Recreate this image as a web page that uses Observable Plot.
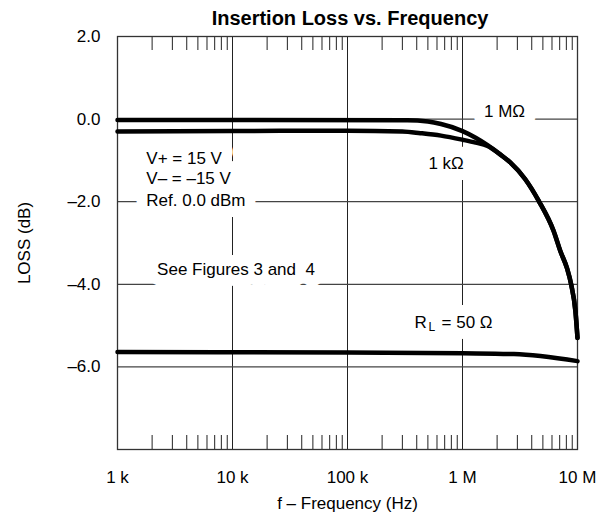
<!DOCTYPE html>
<html><head><meta charset="utf-8">
<script src="https://cdn.jsdelivr.net/npm/d3@7"></script>
<script src="https://cdn.jsdelivr.net/npm/@observablehq/plot@0.6"></script>
<style>
body{margin:0;background:#fff;font-family:"Liberation Sans",Arial,sans-serif;}
#title{height:30px;line-height:36px;font-size:20px;font-weight:bold;text-align:center;padding-left:97px;width:506px;color:#000;}
</style></head><body>
<div id="title">Insertion Loss vs. Frequency</div>
<div id="chart"></div>
<script>
// axis ticks / labels
const xTicks = [1e3, 1e4, 1e5, 1e6, 1e7];
const xTickLabels = ["1 k", "10 k", "100 k", "1 M", "10 M"];
const yTicks = [2, 0, -2, -4, -6];
const yTickLabels = ["2.0", "0.0", "–2.0", "–4.0", "–6.0"];
const xGrid = [1e4, 1e5, 1e6];
const yGrid = [0, -2, -4, -6];
const minorMultipliers = [2, 3, 4, 5, 6, 7, 8, 9];
const decades = [1e3, 1e4, 1e5, 1e6];

// series: RL = 1 MΩ
const freq1M = [1e3, 3.3e5, 5e5, 6.5e5, 1e6, 1.3e6, 1.65e6, 2.14e6, 2.6e6, 3.5e6, 4.6e6, 6.2e6, 7.1e6, 8.1e6, 8.8e6, 9.6e6, 1e7];
const loss1M = [-0.02, -0.03, -0.06, -0.12, -0.29, -0.45, -0.63, -0.86, -1.05, -1.45, -1.98, -2.71, -3.2, -3.61, -4.0, -4.66, -5.3];
// series: RL = 1 kΩ
const freq1k = [1e3, 1e4, 1e5, 3e5, 4.3e5, 6.5e5, 1e6, 1.3e6, 1.65e6, 2.14e6, 2.6e6, 3.5e6, 4.6e6, 6.2e6, 7.1e6, 8.1e6, 8.8e6, 9.6e6, 1e7];
const loss1k = [-0.3, -0.29, -0.28, -0.3, -0.34, -0.4, -0.5, -0.57, -0.65, -0.86, -1.05, -1.45, -1.98, -2.71, -3.2, -3.61, -4.0, -4.66, -5.3];
// series: RL = 50 Ω
const freq50 = [1e3, 1e5, 1e6, 2.8e6, 1e7];
const loss50 = [-5.64, -5.65, -5.67, -5.69, -5.86];

// annotations
const noteText = ["1 MΩ", "1 kΩ", "V+ = 15 V", "V– = –15 V", "Ref. 0.0 dBm", "See Figures 3 and  4"];
const noteFreq = [2.32e6, 7.2e5, 1.78e3, 1.78e3, 1.78e3, 2.21e3];
const noteLoss = [0.18, -1.08, -0.95, -1.44, -1.97, -3.64];
const noteAnchor = ["middle", "middle", "start", "start", "start", "start"];
const rlParts = ["R", "L", "= 50 Ω"];
const rlFreq = 3.83e5, rlLoss = -4.92;

const xLab = new Map(xTicks.map((t, i) => [t, xTickLabels[i]]));
const yLab = new Map(yTicks.map((t, i) => [t, yTickLabels[i]]));
const minor = decades.flatMap(d => minorMultipliers.map(m => m * d));
const series = (f, l, name) => f.map((x, i) => ({f: x, loss: l[i], name}));
const curves = [...series(freq1M, loss1M, "1M"), ...series(freq1k, loss1k, "1k"), ...series(freq50, loss50, "50")];
const notes = noteText.map((t, i) => ({t, f: noteFreq[i], loss: noteLoss[i], a: noteAnchor[i]}));
const notesC = notes.filter(d => d.a === "middle");
const notesL = notes.filter(d => d.a === "start");
const rl = [{f: rlFreq, loss: rlLoss}];

const halo = {fill: "white", stroke: "white", strokeWidth: 22, strokeLinejoin: "round"};
const rlMarks = (extra) => [
  Plot.text(rl, {x: "f", y: "loss", text: () => rlParts[0], textAnchor: "start", fontSize: 17, ...extra}),
  Plot.text(rl, {x: "f", y: "loss", text: () => rlParts[1], textAnchor: "start", dx: 14, dy: 5, fontSize: 12, ...extra}),
  Plot.text(rl, {x: "f", y: "loss", text: () => rlParts[2], textAnchor: "start", dx: 27, fontSize: 17, ...extra})
];
const chart = Plot.plot({
  width: 603, height: 487,
  marginTop: 6, marginBottom: 68, marginLeft: 117, marginRight: 26,
  style: {fontFamily: "Liberation Sans, Arial, sans-serif", fontSize: "17px", background: "white", overflow: "visible", color: "black"},
  x: {type: "log", domain: [1e3, 1e7]},
  y: {domain: [-8, 2]},
  marks: [
    Plot.ruleX(xGrid, {stroke: "#222", strokeWidth: 1}),
    Plot.ruleY(yGrid, {stroke: "#444", strokeWidth: 1.2}),
    Plot.ruleX(minor, {insetTop: 399, stroke: "#222", strokeWidth: 1}),
    Plot.ruleX(minor, {insetBottom: 399, stroke: "#222", strokeWidth: 1}),
    Plot.frame({stroke: "#333", strokeWidth: 1.3}),
    // white halos behind annotations
    Plot.text(notesC, {x: "f", y: "loss", text: "t", textAnchor: "middle", fontSize: 17, ...halo}),
    Plot.text(notesL, {x: "f", y: "loss", text: "t", textAnchor: "start", fontSize: 17, ...halo}),
    ...rlMarks(halo),
    Plot.line(curves, {x: "f", y: "loss", z: "name", stroke: "black", strokeWidth: 4.5, curve: "monotone-x", strokeLinecap: "round", strokeLinejoin: "round"}),
    Plot.text(notesC, {x: "f", y: "loss", text: "t", textAnchor: "middle", fill: "black", fontSize: 17}),
    Plot.text(notesL, {x: "f", y: "loss", text: "t", textAnchor: "start", fill: "black", fontSize: 17}),
    ...rlMarks({fill: "black"}),
    Plot.axisX({ticks: xTicks, tickFormat: d => xLab.get(d), tickSize: 0, tickPadding: 21, label: "f – Frequency (Hz)", labelAnchor: "center", labelOffset: 59, labelArrow: "none"}),
    Plot.axisY({ticks: yTicks, tickFormat: d => yLab.get(d), tickSize: 0, tickPadding: 17, label: "LOSS (dB)", labelAnchor: "center", labelOffset: 100, labelArrow: "none"})
  ]
});
document.getElementById("chart").appendChild(chart);
</script>
</body></html>
